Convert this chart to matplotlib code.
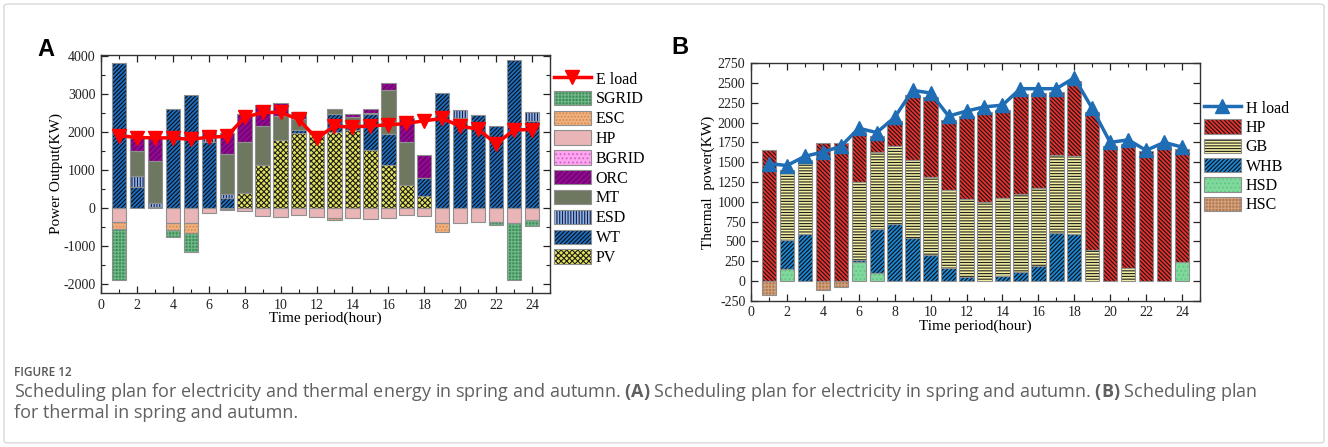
import numpy as np
import matplotlib
matplotlib.use('Agg')
import matplotlib.pyplot as plt
from matplotlib.patches import Patch, FancyBboxPatch
from matplotlib.lines import Line2D
from matplotlib.legend_handler import HandlerTuple
from matplotlib.ticker import MultipleLocator

plt.rcParams['font.family'] = ['Liberation Serif', 'DejaVu Serif']
plt.rcParams['hatch.linewidth'] = 0.8
plt.rcParams['axes.unicode_minus'] = False
plt.rcParams['mathtext.fontset'] = 'custom'
plt.rcParams['mathtext.rm'] = 'Open Sans'
plt.rcParams['mathtext.bf'] = 'Open Sans:bold'

# ---------------- data: panel A (electricity) ----------------
hours = np.arange(1, 25)
pv = [0, 0, 0, 0, 0, 0, 0, 378, 1120, 1795, 1960, 2000, 1995, 2060, 1514, 1138, 613, 307, 0, 0, 0, 0, 0, 0]
wt = [3800, 550, 30, 2600, 2975, 1740, 270, 0, 0, 0, 90, 0, 480, 60, 960, 796, 0, 480, 3020, 2360, 2450, 2145, 3895, 2275]
esd = [0, 280, 90, 0, 0, 150, 100, 0, 0, 0, 0, 0, 0, 0, 0, 0, 0, 0, 0, 220, 0, 0, 0, 245]
mt = [0, 655, 1110, 0, 0, 0, 1040, 1354, 1040, 612, 280, 0, 115, 270, 30, 1170, 1120, 0, 0, 0, 0, 0, 0, 0]
orc = [0, 355, 610, 0, 0, 150, 560, 745, 553, 349, 190, 15, 0, 75, 105, 180, 630, 596, 0, 0, 0, 0, 0, 0]
bgrid = [0] * 24
hp_e = [-380, 0, 0, -410, -410, -148, -25, -80, -210, -230, -200, -245, -278, -260, -300, -278, -190, -210, -410, -393, -367, -380, -400, -323]
esc = [-180, 0, 0, -175, -245, 0, -20, 0, 0, 0, 0, 0, -45, 0, 0, 0, 0, 0, -236, 0, 0, 0, 0, 0]
sgrid = [-1340, 0, 0, -175, -515, 0, 0, 0, 0, 0, 0, 0, 0, 0, 0, 0, 0, 0, 0, 0, 0, -74, -1498, -157]
e_load = [1900, 1850, 1840, 1840, 1800, 1860, 1880, 2380, 2510, 2510, 2330, 1830, 2150, 2120, 2160, 2180, 2220, 2290, 2350, 2150, 2070, 1680, 2050, 2060]

# ---------------- data: panel B (thermal) ----------------
hsd = [0, 150, 0, 0, 0, 242, 96, 0, 0, 0, 0, 0, 0, 0, 0, 0, 0, 0, 0, 0, 0, 0, 0, 242]
whb = [0, 362, 596, 0, 0, 20, 554, 721, 546, 333, 167, 54, 0, 67, 108, 188, 608, 588, 0, 0, 0, 0, 0, 0]
gb = [0, 888, 929, 0, 0, 988, 979, 987, 987, 984, 979, 979, 992, 987, 988, 983, 988, 987, 388, 0, 158, 0, 0, 0]
hp_h = [1650, 0, 0, 1745, 1745, 629, 196, 317, 821, 1008, 887, 1050, 1146, 1104, 1271, 1208, 792, 950, 1741, 1700, 1575, 1638, 1708, 1425]
hsc = [-180, 0, 0, -115, -80, 0, 0, 0, 0, 0, 0, 0, 0, 0, 0, 0, 0, 0, 0, 0, 0, 0, 0, 0]
h_load = [1483, 1458, 1575, 1629, 1700, 1929, 1875, 2067, 2408, 2375, 2083, 2146, 2200, 2221, 2429, 2429, 2429, 2567, 2179, 1750, 1783, 1650, 1750, 1692]

# ---------------- styles ----------------
EDGE = '#8f8f8f'
styleA = {
    'PV': ('#e4e45c', 'xxxxxx', '#1e1e1e'),
    'WT': ('#1d6fc4', '////////', '#0d0d0d'),
    'ESD': ('#8db8ee', '||||||', '#1a1a40'),
    'MT': ('#6e7860', '', '#6e7860'),
    'ORC': ('#8e0a8e', '//////', '#6a006a'),
    'BGRID': ('#ffa6f0', '....', '#d060c0'),
    'HP': ('#e9b5b6', '', '#e9b5b6'),
    'ESC': ('#f2b07c', '.....', '#cf8850'),
    'SGRID': ('#3e8d5c', '+++++', '#72b888'),
}
styleB = {
    'HP': ('#e8312e', '\\' * 8, '#141414'),
    'GB': ('#f4f0a2', '------', '#1e1e1e'),
    'WHB': ('#1b88d6', '////////', '#0d0d0d'),
    'HSD': ('#80d99c', '....', '#62c382'),
    'HSC': ('#b37a52', '+++++', '#d3a27a'),
}
W, H = 1328, 447
BW = 0.8


def draw_bars(ax, vals, bottom, style):
    vals = np.asarray(vals, float)
    m = vals != 0
    fc, hatch, hc = style
    ax.bar(hours[m], vals[m], BW, bottom=bottom[m], color=fc, hatch=hatch,
           edgecolor=hc, linewidth=0, zorder=2)
    ax.bar(hours[m], vals[m], BW, bottom=bottom[m], fill=False,
           edgecolor=EDGE, linewidth=0.8, zorder=3)
    return bottom + vals


def handle(style):
    fc, hatch, hc = style
    return (Patch(facecolor=fc, hatch=hatch, edgecolor=hc, linewidth=0),
            Patch(fill=False, edgecolor=EDGE, linewidth=0.8))


def style_axis(ax):
    for s in ax.spines.values():
        s.set_linewidth(1.0)
        s.set_color('#333333')
    ax.tick_params(which='both', direction='in', top=True, right=True,
                   labelsize=10, colors='#222222', pad=4)
    ax.tick_params(which='major', length=5, width=0.9)
    ax.tick_params(which='minor', length=3, width=0.8)


fig = plt.figure(figsize=(W / 100, H / 100), dpi=100)

# ---------------- panel A ----------------
axA = fig.add_axes([101 / W, 1 - 293 / H, 449 / W, 238 / H])
pos = np.zeros(24)
for name, vals in [('PV', pv), ('WT', wt), ('ESD', esd), ('MT', mt), ('ORC', orc), ('BGRID', bgrid)]:
    pos = draw_bars(axA, vals, pos, styleA[name])
neg = np.zeros(24)
for name, vals in [('HP', hp_e), ('ESC', esc), ('SGRID', sgrid)]:
    neg = draw_bars(axA, vals, neg, styleA[name])
axA.plot(hours, e_load, color='#ff0000', lw=2.5, marker='v', ms=10, zorder=5)
axA.set_xlim(0, 25)
axA.set_ylim(-2240, 4020)
axA.xaxis.set_major_locator(MultipleLocator(2))
axA.xaxis.set_minor_locator(MultipleLocator(1))
axA.yaxis.set_major_locator(MultipleLocator(1000))
axA.yaxis.set_minor_locator(MultipleLocator(500))
style_axis(axA)
axA.set_xlabel('Time period(hour)', fontsize=11, labelpad=0)
axA.set_ylabel('Power Output(KW)', fontsize=11, labelpad=0)

# ---------------- panel B ----------------
axB = fig.add_axes([751 / W, 1 - 300.7 / H, 449 / W, 237.4 / H])
pos = np.zeros(24)
for name, vals in [('HSD', hsd), ('WHB', whb), ('GB', gb), ('HP', hp_h)]:
    pos = draw_bars(axB, vals, pos, styleB[name])
neg = np.zeros(24)
neg = draw_bars(axB, hsc, neg, styleB['HSC'])
axB.plot(hours, h_load, color='#1f6db5', lw=2.5, marker='^', ms=10, zorder=5)
axB.set_xlim(0, 25)
axB.set_ylim(-250, 2750)
axB.xaxis.set_major_locator(MultipleLocator(2))
axB.xaxis.set_minor_locator(MultipleLocator(1))
axB.yaxis.set_major_locator(MultipleLocator(250))
style_axis(axB)
axB.set_xlabel('Time period(hour)', fontsize=11, labelpad=0)
axB.set_ylabel('Thermal  power(KW)', fontsize=11, labelpad=2)

# ---------------- legends ----------------
hmap = {tuple: HandlerTuple(ndivide=1, pad=0)}
handlesA = [Line2D([], [], color='#ff0000', lw=2.5, marker='v', ms=10)]
labelsA = ['E load']
for name in ['SGRID', 'ESC', 'HP', 'BGRID', 'ORC', 'MT', 'ESD', 'WT', 'PV']:
    handlesA.append(handle(styleA[name]))
    labelsA.append(name)
fig.legend(handlesA, labelsA, loc='upper left', bbox_to_anchor=(554 / W, 1 - 71 / H),
           frameon=False, fontsize=11.5, handlelength=2.3, handleheight=1.0,
           labelspacing=0.2, handletextpad=0.3, borderpad=0, borderaxespad=0,
           handler_map=hmap)

handlesB = [Line2D([], [], color='#1f6db5', lw=2.5, marker='^', ms=10)]
labelsB = ['H load']
for name in ['HP', 'GB', 'WHB', 'HSD', 'HSC']:
    handlesB.append(handle(styleB[name]))
    labelsB.append(name)
fig.legend(handlesB, labelsB, loc='upper left', bbox_to_anchor=(1204 / W, 1 - 100 / H),
           frameon=False, fontsize=11.5, handlelength=2.3, handleheight=1.0,
           labelspacing=0.17, handletextpad=0.3, borderpad=0, borderaxespad=0,
           handler_map=hmap)

# ---------------- panel letters ----------------
fig.text(46 / W, 1 - 50 / H, 'A', fontsize=17, fontweight='bold',
         family=['Liberation Sans', 'DejaVu Sans'], ha='center', va='center')
fig.text(680 / W, 1 - 47 / H, 'B', fontsize=17, fontweight='bold',
         family=['Liberation Sans', 'DejaVu Sans'], ha='center', va='center')

# ---------------- caption ----------------
cap_color = '#606060'
fig.text(14 / W, 1 - 372 / H, 'FIGURE 12', fontsize=8.5, fontweight='semibold',
         family=['Open Sans', 'DejaVu Sans'], color='#555555', va='center')
line1 = ('Scheduling plan for electricity and thermal energy in spring and autumn. '
         r'$\mathbf{(A)}$ Scheduling plan for electricity in spring and autumn. '
         r'$\mathbf{(B)}$ Scheduling plan')
t1 = fig.text(14 / W, 1 - 392 / H, line1, fontsize=10.5, family=['Open Sans', 'DejaVu Sans'],
              color=cap_color, va='center')
t2 = fig.text(14 / W, 1 - 413 / H, 'for thermal in spring and autumn.', fontsize=10.5,
              family=['Open Sans', 'DejaVu Sans'], color=cap_color, va='center')
r = fig.canvas.get_renderer()
w1 = t1.get_window_extent(r).width
fs = 10.5 * 1248 / w1
t1.set_fontsize(fs)
t2.set_fontsize(fs)

# ---------------- frame ----------------
fig.patches.append(FancyBboxPatch((4 / W, 4 / H), 1 - 8 / W, 1 - 8 / H,
                                  boxstyle='round,pad=0,rounding_size=0.004',
                                  transform=fig.transFigure, fill=False,
                                  edgecolor='#d9d9d9', linewidth=1.0))

fig.savefig('out.png', dpi=100)
